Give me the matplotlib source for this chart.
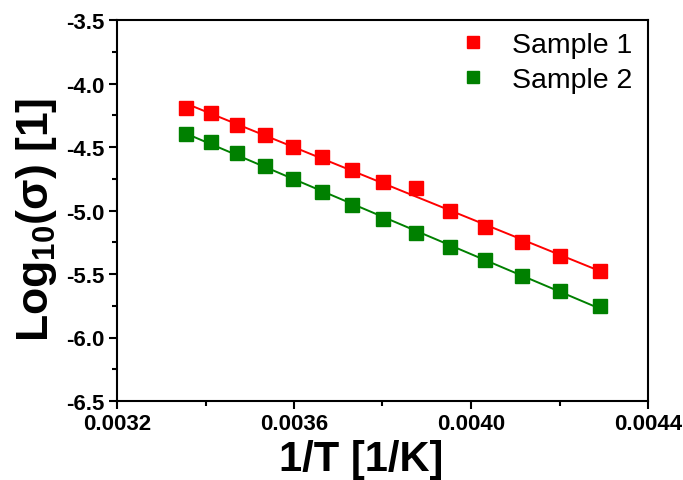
import matplotlib
matplotlib.use("Agg")
import matplotlib.pyplot as plt
import numpy as np
from matplotlib.ticker import MultipleLocator

plt.rcParams["font.family"] = ["Liberation Sans", "DejaVu Sans"]
plt.rcParams["mathtext.default"] = "regular"

# 1/T values (T = 298 ... 233 K)
inv_t = [0.003356, 0.003413, 0.003472, 0.003534, 0.003597, 0.003663, 0.003731,
         0.003802, 0.003876, 0.003953, 0.004032, 0.004115, 0.004202, 0.004292]
sample1 = [-4.190, -4.235, -4.327, -4.406, -4.497, -4.580, -4.684,
           -4.778, -4.824, -5.005, -5.131, -5.251, -5.361, -5.479]
sample2 = [-4.400, -4.461, -4.550, -4.650, -4.751, -4.853, -4.960,
           -5.064, -5.174, -5.286, -5.393, -5.513, -5.634, -5.754]
labels = ["Sample 1", "Sample 2"]
colors = ["#ff0000", "#008000"]

fig = plt.figure(figsize=(6.83, 4.81), dpi=100)
ax = fig.add_axes([117 / 683, 79 / 481, 531 / 683, 381 / 481])

x = np.array(inv_t)
for ys, lab, c in zip([sample1, sample2], labels, colors):
    ys = np.array(ys)
    k, b = np.polyfit(x, ys, 1)
    ax.plot(x, k * x + b, color=c, lw=1.4, zorder=2)
    ax.plot(x, ys, ls="none", marker="s", ms=9.5, color=c, label=lab, zorder=3)

ax.set_xlim(0.0032, 0.0044)
ax.set_ylim(-6.5, -3.5)
ax.xaxis.set_major_locator(MultipleLocator(0.0004))
ax.xaxis.set_minor_locator(MultipleLocator(0.0002))
ax.yaxis.set_major_locator(MultipleLocator(0.5))
ax.yaxis.set_minor_locator(MultipleLocator(0.25))
ax.xaxis.set_major_formatter(plt.FuncFormatter(lambda v, p: f"{v:.4f}"))
ax.yaxis.set_major_formatter(plt.FuncFormatter(lambda v, p: f"{v:.1f}"))

ax.tick_params(which="both", direction="out", width=1.5, top=False, right=False)
ax.tick_params(which="major", length=6, labelsize=16)
ax.tick_params(which="minor", length=3.5)
ax.tick_params(axis="x", pad=3)
ax.tick_params(axis="y", pad=3)
for lbl in ax.get_xticklabels() + ax.get_yticklabels():
    lbl.set_fontweight("bold")
for sp in ax.spines.values():
    sp.set_linewidth(1.5)

ax.set_xlabel("1/T [1/K]", fontsize=30, fontweight="bold")
ax.xaxis.set_label_coords(0.46, -0.1)
ax.set_ylabel("Log$_{10}$(σ) [1]", fontsize=32, fontweight="bold")
ax.yaxis.set_label_coords(-0.11, 0.478)

ax.legend(loc="upper right", frameon=False, fontsize=20.5, markerscale=0.85,
          handlelength=1.0, handletextpad=0.9, labelspacing=0.3,
          borderaxespad=0.1, bbox_to_anchor=(0.998, 1.005))

fig.savefig("out.png", dpi=100)
